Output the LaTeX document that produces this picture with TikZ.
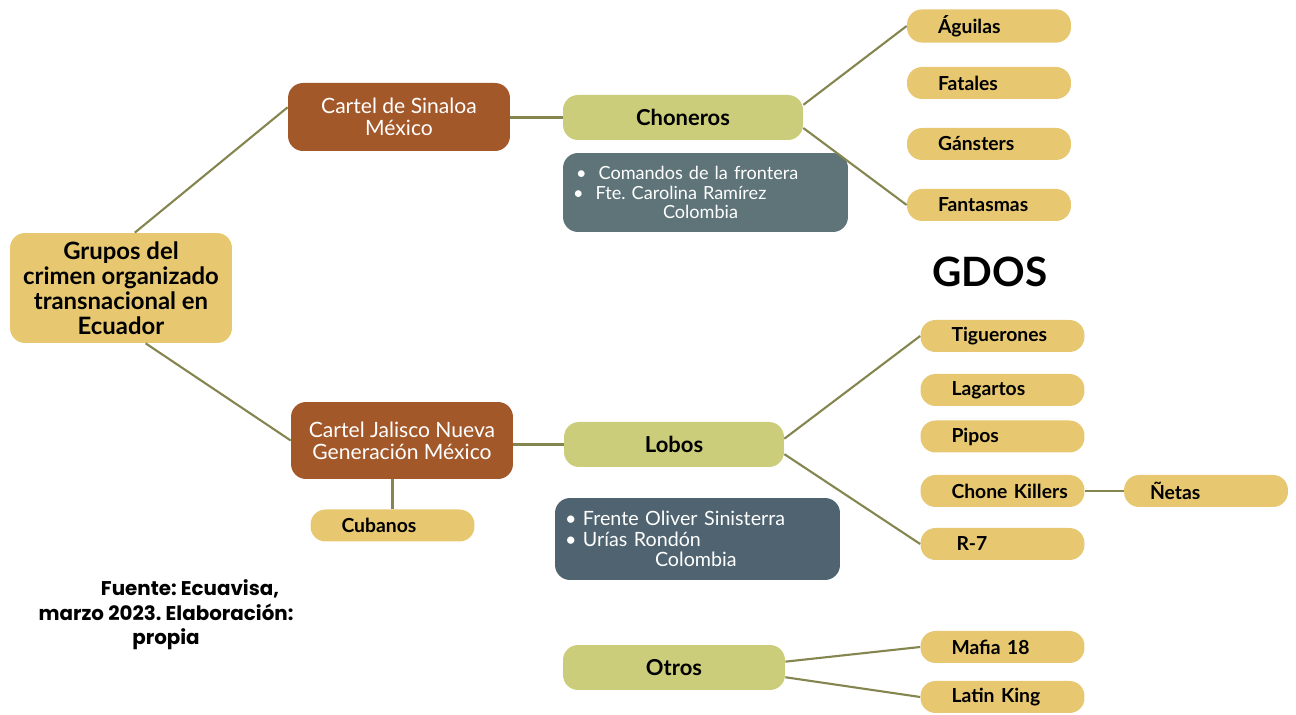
\documentclass[tikz,border=0pt]{standalone}
\usepackage{fontspec}
\setmainfont{Lato}
\newfontfamily\footfont{Poppins}
\frenchspacing
\definecolor{gold}{HTML}{E7C870}
\definecolor{brown}{HTML}{A3582A}
\definecolor{olive}{HTML}{CBCD7B}
\definecolor{slate}{HTML}{5E7478}
\definecolor{slateb}{HTML}{4F6470}
\definecolor{lin}{HTML}{858550}
\tikzset{
  pill/.style={fill=gold, rounded corners=0.3cm, minimum height=0.64cm, text width=2.68cm, inner xsep=0.3cm, align=left, font=\bfseries\fontsize{11}{12}\selectfont, execute at begin node=\hspace*{0.32cm}},
  cartel/.style={fill=brown, rounded corners=0.3cm, minimum width=4.44cm, text=white, align=center, font=\fontsize{12}{12.5}\selectfont},
  grupo/.style={fill=olive, rounded corners=0.3cm, minimum height=0.9cm, font=\bfseries\fontsize{12.5}{14}\selectfont},
  frente/.style={rounded corners=0.3cm, minimum width=5.7cm, text width=5.3cm, inner xsep=0.2cm, align=left, text=white},
  rama/.style={lin, line width=1.2pt}
}
\begin{document}
\begin{tikzpicture}[x=0.02cm, y=-0.02cm]
\useasboundingbox (0,0) rectangle (1296,715);
\node[fill=gold, rounded corners=0.3cm, minimum width=4.44cm, minimum height=2.2cm, align=center, font=\bfseries\fontsize{13.6}{14.2}\selectfont] (gr) at (121,288) {Grupos del\\crimen organizado\\transnacional en\\Ecuador};
\node[cartel, minimum height=1.36cm] (sin) at (399,117) {Cartel de Sinaloa\\México};
\node[cartel, minimum height=1.54cm] (jal) at (402,440.5) {Cartel Jalisco Nueva\\Generación México};
\node[grupo, minimum width=4.8cm] (chon) at (683,117.5) {Choneros};
\node[grupo, minimum width=4.4cm] (lob) at (674,444.5) {Lobos};
\node[grupo, minimum width=4.44cm] (otr) at (674,667.5) {Otros};
\node[frente, fill=slate, minimum height=1.58cm, font=\fontsize{10.3}{11.3}\selectfont] (f1) at (705.5,192.5) {\hspace*{0.06cm}\textbullet\ \ Comandos de la frontera\\\textbullet\ \ Fte. Carolina Ramírez\\\hspace*{1.8cm}Colombia};
\node[frente, fill=slateb, minimum height=1.64cm, font=\fontsize{11.2}{11.7}\selectfont] (f2) at (697.5,539) {\textbullet\ Frente Oliver Sinisterra\\\textbullet\ Urías Rondón\\\hspace*{1.8cm}Colombia};
\node[pill] (agu) at (989,26) {Águilas};
\node[pill] (fat) at (989,83) {Fatales};
\node[pill] (gan) at (989,144) {Gánsters};
\node[pill] (fan) at (989,205) {Fantasmas};
\node[font=\bfseries\fontsize{23}{26}\selectfont] (gdos) at (990,272) {GDOS};
\node[pill] (tig) at (1002.5,336) {Tiguerones};
\node[pill] (lag) at (1002.5,390) {Lagartos};
\node[pill] (pip) at (1002.5,436.5) {Pipos};
\node[pill] (chk) at (1002.5,491) {Chone Killers};
\node[pill] (r7) at (1002.5,544) {\hspace*{0.1cm}R-7};
\node[pill] (net) at (1206,491) {\hspace*{-0.1cm}Ñetas};
\node[pill] (cub) at (392.5,525.5) {Cubanos};
\node[pill] (maf) at (1002.5,647) {Mafia 18};
\node[pill] (lat) at (1002.5,697) {Latin King};
\node[align=center, font=\footfont\bfseries\fontsize{11.3}{14}\selectfont] (fue) at (166,615) {\hspace*{0.96cm}Fuente: Ecuavisa,\\marzo 2023. Elaboración:\\propia};
\draw[rama] (gr.76) -- (sin.175);
\draw[rama] (gr.-66) -- (jal.west);
\draw[rama] (chon.west -| sin.east) -- (chon.west);
\draw[rama] (chon.6) -- (agu.west);
\draw[rama] (chon.-5) -- (fan.west);
\draw[rama] (lob.west -| jal.east) -- (lob.west);
\draw[rama] (cub.north |- jal.south) -- (cub.north);
\draw[rama] (lob.3) -- (tig.west);
\draw[rama] (lob.-5) -- (r7.west);
\draw[rama] (chk.east) -- (net.west);
\draw[rama] (otr.3) -- (maf.west);
\draw[rama] (otr.-5) -- (lat.west);
\end{tikzpicture}
\end{document}
